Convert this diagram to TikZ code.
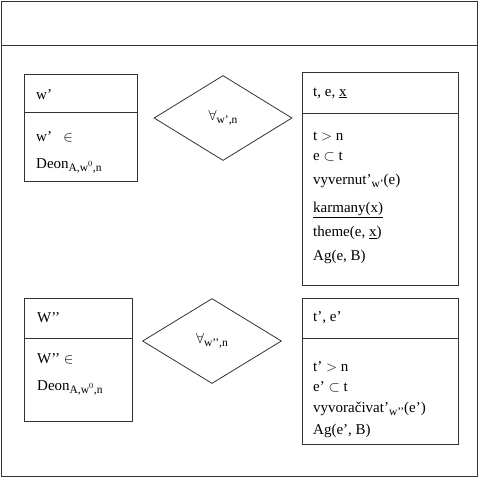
\documentclass[tikz,border=0pt]{standalone}
\usepackage{fontspec}
\setmainfont{Liberation Serif}
\usepackage{tikz}
\usetikzlibrary{shapes.geometric,positioning}
\definecolor{frame}{HTML}{333333}
\newcommand{\lo}[1]{\raisebox{-0.45ex}{\fontsize{11.5}{12}\selectfont #1}}

\begin{document}
\begin{tikzpicture}[x=1pt,y=-1pt,
  outer/.style={draw=frame,line width=1.4pt,anchor=north west,inner sep=0pt},
  part/.style={draw=frame,line width=0.9pt,anchor=north west,inner sep=0pt},
  lbl/.style={anchor=west,inner sep=0pt,font=\fontsize{15}{18}\selectfont},
  body/.style={anchor=north west,inner sep=0pt,align=left,
               font=\fontsize{15}{20}\selectfont},
  gate/.style={diamond,draw=frame,line width=0.8pt,inner sep=0pt,
               font=\fontsize{15}{18}\selectfont}
]
\useasboundingbox (0,0) rectangle (478,477);
\node[outer,minimum width=476,minimum height=475] (page) at (1,1) {};
\node[outer,minimum width=476,minimum height=44] (title) at (1,1) {};

% upper row
\node[part,minimum width=113,minimum height=38] (wh) at (24,74) {};
\node[part,minimum width=113,minimum height=69] (wb) at (24,112) {};
\node[lbl] (wl) at (36,95) {w’};
\node[body] (wt) at (36,131) {w’ \ \ $\in$\\[7pt]Deon\lo{A,w$^0$,n}};

\node[gate,minimum width=138,minimum height=85] (q1) at (223,118) {$\forall$\lo{w’,n}};

\node[part,minimum width=156,minimum height=41] (eh) at (302,72) {};
\node[part,minimum width=156,minimum height=172] (eb) at (302,113) {};
\node[lbl] (el) at (313,93) {t, e, \underline{x}};
\node[body] (et) at (313,132) {t $>$ n\\
  e $\subset$ t\\[4pt]
  vyvernut’\lo{w’}(e)\\[8pt]
  \underline{karmany(x)}\\[4pt]
  theme(e, \underline{x})\\[4pt]
  Ag(e, B)};

% lower row
\node[part,minimum width=108,minimum height=40] (vh) at (24,298) {};
\node[part,minimum width=108,minimum height=83] (vb) at (24,338) {};
\node[lbl] (vl) at (37,318) {W’’};
\node[body] (vt) at (37,353) {W’’ $\in$\\[7pt]Deon\lo{A,w$^0$,n}};

\node[gate,minimum width=139,minimum height=85] (q2) at (212,341) {$\forall$\lo{w’’,n}};

\node[part,minimum width=156,minimum height=40] (fh) at (302,298) {};
\node[part,minimum width=156,minimum height=106] (fb) at (302,338) {};
\node[lbl] (fl) at (313,318) {t’, e’};
\node[body] (ft) at (313,361) {t’ $>$ n\\
  e’ $\subset$ t\\[1pt]
  vyvoračivat’\lo{w’’}(e’)\\[2pt]
  Ag(e’, B)};
\end{tikzpicture}
\end{document}
